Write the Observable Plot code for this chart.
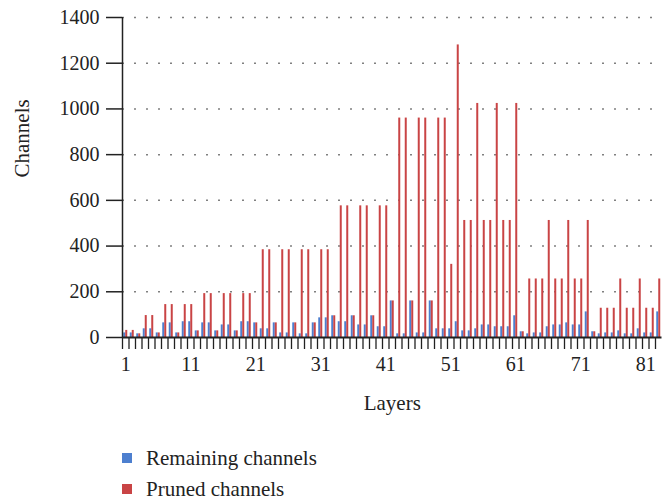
<!DOCTYPE html>
<html>
<head>
<meta charset="utf-8">
<script src="https://cdn.jsdelivr.net/npm/d3@7"></script>
<script src="https://cdn.jsdelivr.net/npm/@observablehq/plot@0.6"></script>
<style>
  body { margin: 0; background: #fff; font-family: "Liberation Serif", serif; overflow: hidden; }
  #legend { padding-top: 13px; padding-left: 122px; }
  .row { height: 20px; line-height: 20px; font-size: 21px; color: #222; display: flex; align-items: center; margin-bottom: 11px; }
  .sw { width: 10px; height: 10px; margin-right: 14px; display: inline-block; }
</style>
</head>
<body>
<div id="chart"></div>
<div id="legend"></div>
<script>
const remaining = [20,20,16,38,38,20,64,64,20,69,69,29,64,64,29,55,55,29,69,69,
  64,38,38,64,20,20,64,16,16,64,86,86,95,69,69,95,55,55,95,47,
  47,160,16,16,160,20,20,160,38,38,38,69,29,29,38,55,55,47,47,47,
  95,25,16,20,20,47,55,55,64,55,55,112,25,16,20,20,29,16,16,38,
  20,20,112];
const pruned = [31,31,16,96,96,20,144,144,20,144,144,29,192,192,29,192,192,29,192,192,
  64,384,384,64,384,384,64,384,384,64,384,384,95,576,576,95,576,576,95,576,
  576,160,960,960,160,960,960,160,960,960,320,1280,512,512,1024,512,512,1024,512,512,
  1024,25,256,256,256,512,256,256,512,256,256,512,25,128,128,128,256,128,128,256,
  128,128,256];
const layers = remaining.map((_, i) => i + 1);
const xTickLabels = [1, 11, 21, 31, 41, 51, 61, 71, 81];
const yTicks = [0, 200, 400, 600, 800, 1000, 1200, 1400];
const gridValues = [200, 400, 600, 800, 1000, 1200, 1400];
const seriesNames = ["Remaining channels", "Pruned channels"];
const colors = ["#4d7fcf", "#c94445"];

const data = layers.map((l, i) => ({layer: l, remaining: remaining[i], pruned: pruned[i]}));

const chart = Plot.plot({
  width: 663,
  height: 435,
  marginLeft: 122,
  marginRight: 1.5,
  marginTop: 17,
  marginBottom: 98,
  x: {type: "band", domain: layers, padding: 0, axis: null},
  y: {domain: [0, 1400], axis: null},
  style: {fontFamily: "Liberation Serif, serif", fontSize: "20px", color: "#222", background: "#fff"},
  marks: [
    Plot.ruleY(gridValues, {stroke: "#808080", strokeWidth: 1.5, strokeDasharray: "2,10"}),
    Plot.barY(data, {x: "layer", y: "remaining", fill: colors[0], insetLeft: 2.25, insetRight: 2.25, dx: -1}),
    Plot.barY(data, {x: "layer", y: "pruned", fill: colors[1], insetLeft: 2.25, insetRight: 2.25, dx: 1}),
    Plot.axisY({ticks: yTicks, tickFormat: d => String(d), tickSize: 16, tickPadding: 7, fontSize: 20, stroke: "#222", strokeWidth: 1.5, label: null}),
    Plot.ruleX([1], {x: d => d, dx: -3.25, y1: 0, y2: 1400, stroke: "#222", strokeWidth: 1.5}),
    Plot.axisX({ticks: layers, tickSize: 12, tickFormat: () => "", dx: -3.25, stroke: "#222", strokeWidth: 1.3, label: null}),
    Plot.axisX({ticks: xTickLabels, tickFormat: d => String(d), tickSize: 0, tickPadding: 19, fontSize: 20, label: null}),
    Plot.ruleY([0], {stroke: "#222", strokeWidth: 2}),
    Plot.text(["Layers"], {frameAnchor: "bottom", dy: 72, fontSize: 21, fill: "#222"}),
    Plot.text(["Channels"], {frameAnchor: "left", dx: -100, rotate: -90, fontSize: 21, fill: "#222"})
  ]
});
document.getElementById("chart").appendChild(chart);

const legend = document.getElementById("legend");
seriesNames.forEach((name, i) => {
  const row = document.createElement("div");
  row.className = "row";
  const sw = document.createElement("span");
  sw.className = "sw";
  sw.style.background = colors[i];
  row.appendChild(sw);
  row.appendChild(document.createTextNode(name));
  legend.appendChild(row);
});
</script>
</body>
</html>
